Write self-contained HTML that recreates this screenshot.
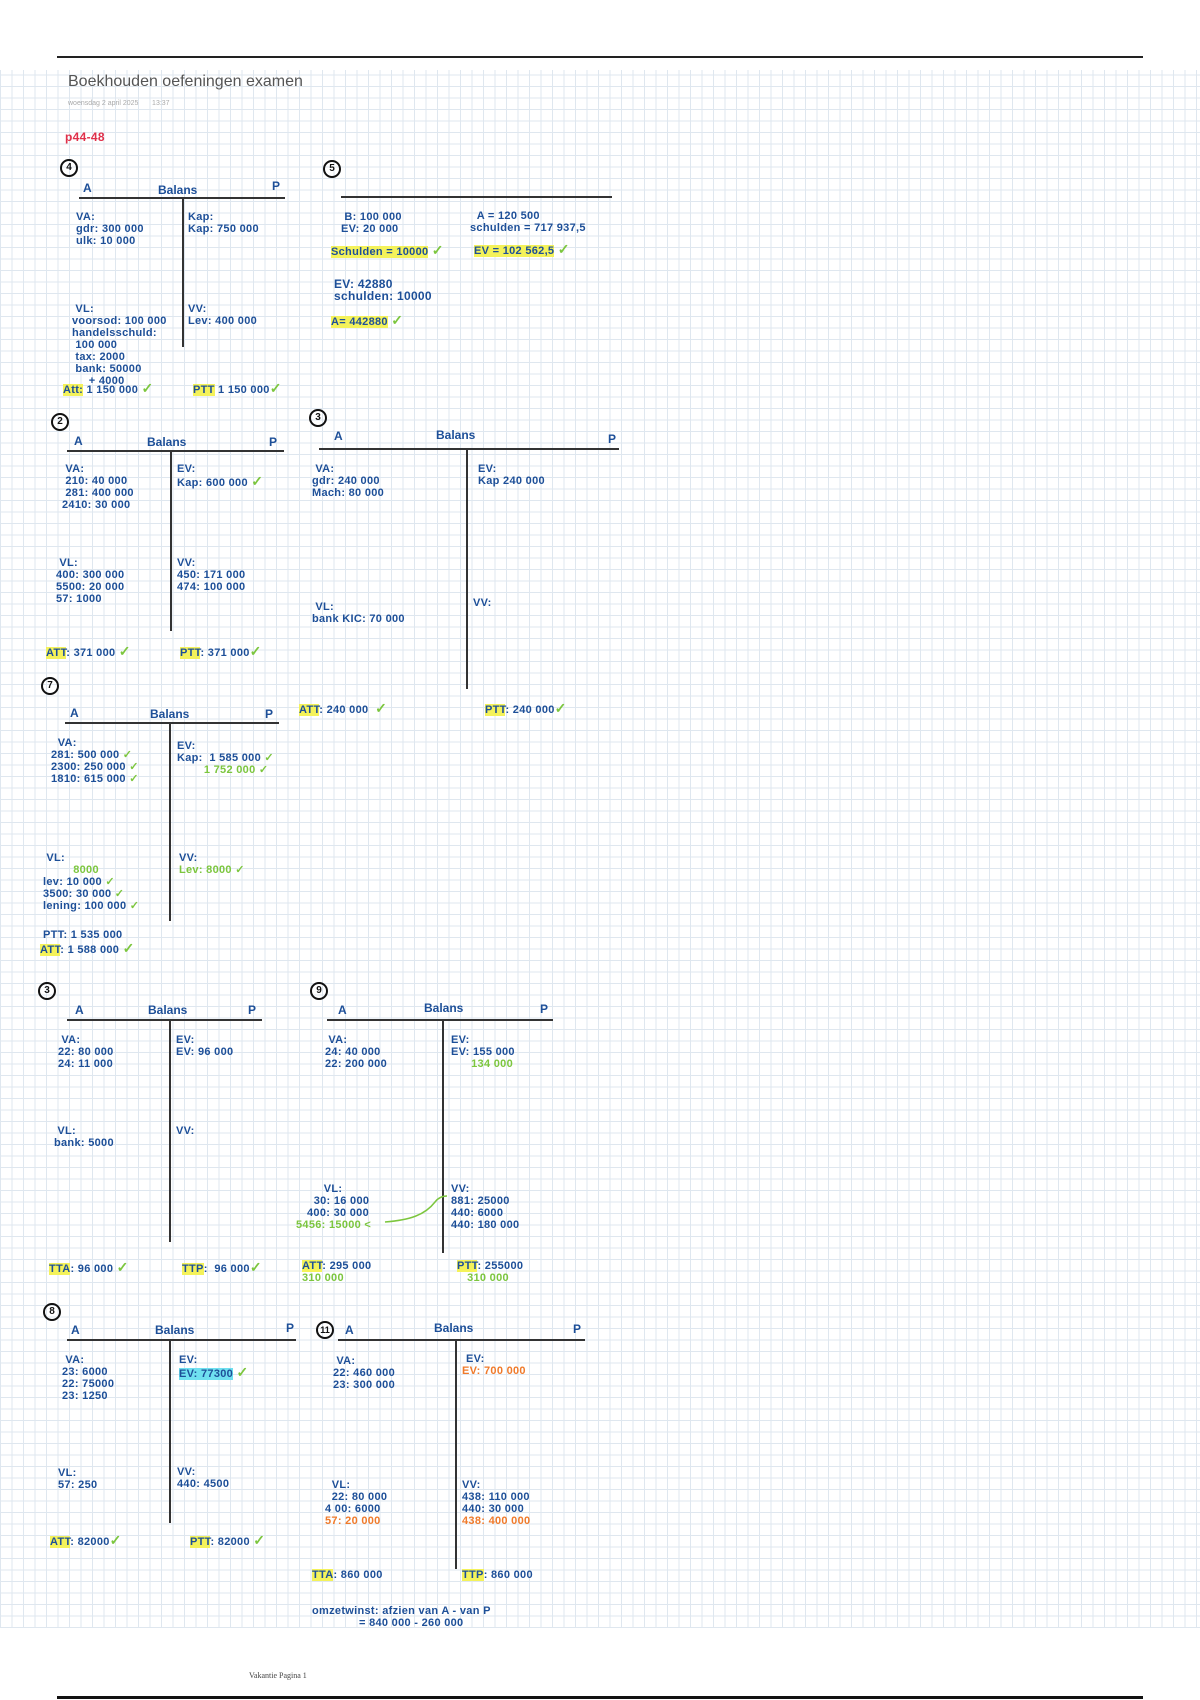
<!DOCTYPE html>
<html><head><meta charset="utf-8"><style>
html,body{margin:0;padding:0}
body{width:1200px;height:1700px;position:relative;background:#fff;overflow:hidden;font-family:"Liberation Sans",sans-serif}
.grid{position:absolute;left:0;top:70px;width:1200px;height:1558px;
background-image:repeating-linear-gradient(0deg,#dfe7ef 0 1px,transparent 1px 11.5px),repeating-linear-gradient(90deg,#dfe7ef 0 1px,transparent 1px 11.5px)}
.t{position:absolute;font-size:11px;font-weight:bold;color:#1d4f98;white-space:nowrap;line-height:12px;letter-spacing:0.3px}
.g{color:#7cc63e}.o{color:#f07a2a}.r{color:#e0304a}
.h{background:#f4f25a}.c{background:#6fe0f0}
.hl{position:absolute;height:2px;background:#333}
.vl{position:absolute;width:2px;background:#333}
.n{position:absolute;width:14px;height:14px;border:2px solid #111;border-radius:50%;font-size:10px;font-weight:bold;text-align:center;line-height:14px;color:#111}
.k{color:#7cc63e;font-size:14px}
.hd{position:absolute;font-size:12px;font-weight:bold;color:#1d4f98}
</style></head><body>
<div class="hl" style="left:57px;top:56px;width:1086px;background:#222"></div>
<div class="grid"></div>
<div class="hl" style="left:57px;top:1696px;width:1086px;background:#111;height:3px"></div>
<div style="position:absolute;left:68px;top:73px;font-size:16px;color:#555">Boekhouden oefeningen examen</div>
<div style="position:absolute;left:68px;top:100px;font-size:7px;color:#aaa">woensdag 2 april 2025 &nbsp;&nbsp;&nbsp;&nbsp;&nbsp; 13:37</div>
<div class="t r" style="left:65px;top:131px;font-size:12px">p44-48</div>
<div style="position:absolute;left:249px;top:1671px;font-size:8px;font-family:'Liberation Serif',serif;color:#444">Vakantie Pagina 1</div>

<!-- 4 -->
<div class="n" style="left:60px;top:159px">4</div>
<div class="hd" style="left:83px;top:181px">A</div><div class="hd" style="left:158px;top:183px">Balans</div><div class="hd" style="left:272px;top:179px">P</div>
<div class="hl" style="left:79px;top:197px;width:206px"></div><div class="vl" style="left:182px;top:198px;height:149px"></div>
<div class="t" style="left:76px;top:211px">VA:<br>gdr: 300 000<br>ulk: 10 000</div>
<div class="t" style="left:188px;top:211px">Kap:<br>Kap: 750 000</div>
<div class="t" style="left:72px;top:303px">&nbsp;VL:<br>voorsod: 100 000<br>handelsschuld:<br>&nbsp;100 000<br>&nbsp;tax: 2000<br>&nbsp;bank: 50000<br>&nbsp;&nbsp;&nbsp;&nbsp;&nbsp;+ 4000</div>
<div class="t" style="left:188px;top:303px">VV:<br>Lev: 400 000</div>
<div class="t" style="left:63px;top:382px"><span class="h">Att:</span> 1 150 000 <span class="k">✓</span></div>
<div class="t" style="left:193px;top:382px"><span class="h">PTT</span> 1 150 000<span class="k">✓</span></div>

<!-- 5 -->
<div class="n" style="left:323px;top:160px">5</div>
<div class="hl" style="left:341px;top:196px;width:271px"></div>
<div class="t" style="left:341px;top:211px">&nbsp;B: 100 000<br>EV: 20 000</div>
<div class="t" style="left:470px;top:210px">&nbsp;&nbsp;A = 120 500<br>schulden = 717 937,5</div>
<div class="t" style="left:331px;top:244px"><span class="h">Schulden = 10000</span> <span class="k">✓</span></div>
<div class="t" style="left:474px;top:243px"><span class="h">EV = 102 562,5</span> <span class="k">✓</span></div>
<div class="t" style="left:334px;top:278px;font-size:12px">EV: 42880<br>schulden: 10000</div>
<div class="t" style="left:331px;top:314px"><span class="h">A= 442880</span> <span class="k">✓</span></div>

<!-- 2 -->
<div class="n" style="left:51px;top:413px">2</div>
<div class="hd" style="left:74px;top:434px">A</div><div class="hd" style="left:147px;top:435px">Balans</div><div class="hd" style="left:269px;top:435px">P</div>
<div class="hl" style="left:67px;top:450px;width:217px"></div><div class="vl" style="left:170px;top:451px;height:180px"></div>
<div class="t" style="left:62px;top:463px">&nbsp;VA:<br>&nbsp;210: 40 000<br>&nbsp;281: 400 000<br>2410: 30 000</div>
<div class="t" style="left:177px;top:463px">EV:<br>Kap: 600 000 <span class="k">✓</span></div>
<div class="t" style="left:56px;top:557px">&nbsp;VL:<br>400: 300 000<br>5500: 20 000<br>57: 1000</div>
<div class="t" style="left:177px;top:557px">VV:<br>450: 171 000<br>474: 100 000</div>
<div class="t" style="left:46px;top:645px"><span class="h">ATT</span>: 371 000 <span class="k">✓</span></div>
<div class="t" style="left:180px;top:645px"><span class="h">PTT</span>: 371 000<span class="k">✓</span></div>

<!-- 3 -->
<div class="n" style="left:309px;top:409px">3</div>
<div class="hd" style="left:334px;top:429px">A</div><div class="hd" style="left:436px;top:428px">Balans</div><div class="hd" style="left:608px;top:432px">P</div>
<div class="hl" style="left:319px;top:448px;width:300px"></div><div class="vl" style="left:466px;top:449px;height:240px"></div>
<div class="t" style="left:312px;top:463px">&nbsp;VA:<br>gdr: 240 000<br>Mach: 80 000</div>
<div class="t" style="left:478px;top:463px">EV:<br>Kap 240 000</div>
<div class="t" style="left:312px;top:601px">&nbsp;VL:<br>bank KIC: 70 000</div>
<div class="t" style="left:473px;top:597px">VV:</div>
<div class="t" style="left:299px;top:702px"><span class="h">ATT</span>: 240 000 &nbsp;<span class="k">✓</span></div>
<div class="t" style="left:485px;top:702px"><span class="h">PTT</span>: 240 000<span class="k">✓</span></div>

<!-- 7 -->
<div class="n" style="left:41px;top:677px">7</div>
<div class="hd" style="left:70px;top:706px">A</div><div class="hd" style="left:150px;top:707px">Balans</div><div class="hd" style="left:265px;top:707px">P</div>
<div class="hl" style="left:65px;top:722px;width:214px"></div><div class="vl" style="left:169px;top:723px;height:198px"></div>
<div class="t" style="left:51px;top:737px">&nbsp;&nbsp;VA:<br>281: 500 000 <span class="g">✓</span><br>2300: 250 000 <span class="g">✓</span><br>1810: 615 000 <span class="g">✓</span></div>
<div class="t" style="left:177px;top:740px">EV:<br>Kap: &nbsp;1 585 000 <span class="g">✓</span><br><span class="g">&nbsp;&nbsp;&nbsp;&nbsp;&nbsp;&nbsp;&nbsp;&nbsp;1 752 000 ✓</span></div>
<div class="t" style="left:43px;top:852px">&nbsp;VL:<br><span class="g">&nbsp;&nbsp;&nbsp;&nbsp;&nbsp;&nbsp;&nbsp;&nbsp;&nbsp;8000</span><br>lev: 10 000 <span class="g">✓</span><br>3500: 30 000 <span class="g">✓</span><br>lening: 100 000 <span class="g">✓</span></div>
<div class="t" style="left:179px;top:852px">VV:<br><span class="g">Lev: 8000 ✓</span></div>
<div class="t" style="left:43px;top:929px">PTT: 1 535 000</div>
<div class="t" style="left:40px;top:942px"><span class="h">ATT</span>: 1 588 000 <span class="k">✓</span></div>

<!-- 3b -->
<div class="n" style="left:38px;top:982px">3</div>
<div class="hd" style="left:75px;top:1003px">A</div><div class="hd" style="left:148px;top:1003px">Balans</div><div class="hd" style="left:248px;top:1003px">P</div>
<div class="hl" style="left:67px;top:1019px;width:195px"></div><div class="vl" style="left:169px;top:1020px;height:222px"></div>
<div class="t" style="left:58px;top:1034px">&nbsp;VA:<br>22: 80 000<br>24: 11 000</div>
<div class="t" style="left:176px;top:1034px">EV:<br>EV: 96 000</div>
<div class="t" style="left:54px;top:1125px">&nbsp;VL:<br>bank: 5000</div>
<div class="t" style="left:176px;top:1125px">VV:</div>
<div class="t" style="left:49px;top:1261px"><span class="h">TTA</span>: 96 000 <span class="k">✓</span></div>
<div class="t" style="left:182px;top:1261px"><span class="h">TTP</span>: &nbsp;96 000<span class="k">✓</span></div>

<!-- 9 -->
<div class="n" style="left:310px;top:982px">9</div>
<div class="hd" style="left:338px;top:1003px">A</div><div class="hd" style="left:424px;top:1001px">Balans</div><div class="hd" style="left:540px;top:1002px">P</div>
<div class="hl" style="left:327px;top:1019px;width:226px"></div><div class="vl" style="left:442px;top:1020px;height:233px"></div>
<div class="t" style="left:325px;top:1034px">&nbsp;VA:<br>24: 40 000<br>22: 200 000</div>
<div class="t" style="left:451px;top:1034px">EV:<br>EV: 155 000<br><span class="g">&nbsp;&nbsp;&nbsp;&nbsp;&nbsp;&nbsp;134 000</span></div>
<div class="t" style="left:307px;top:1183px">&nbsp;&nbsp;&nbsp;&nbsp;&nbsp;VL:<br>&nbsp;&nbsp;30: 16 000<br>400: 30 000<br><span class="g" style="margin-left:-11px">5456: 15000 &lt;</span></div>
<svg style="position:absolute;left:380px;top:1190px" width="70" height="40"><path d="M5 32 C30 30,45 25,55 12 C58 8,62 6,67 6" stroke="#7cc63e" stroke-width="1.5" fill="none"/></svg>
<div class="t" style="left:451px;top:1183px">VV:<br>881: 25000<br>440: 6000<br>440: 180 000</div>
<div class="t" style="left:302px;top:1260px"><span class="h">ATT</span>: 295 000<br><span class="g">310 000</span></div>
<div class="t" style="left:457px;top:1260px"><span class="h">PTT</span>: 255000<br><span class="g">&nbsp;&nbsp;&nbsp;310 000</span></div>

<!-- 8 -->
<div class="n" style="left:43px;top:1303px">8</div>
<div class="hd" style="left:71px;top:1323px">A</div><div class="hd" style="left:155px;top:1323px">Balans</div><div class="hd" style="left:286px;top:1321px">P</div>
<div class="hl" style="left:67px;top:1339px;width:229px"></div><div class="vl" style="left:169px;top:1340px;height:183px"></div>
<div class="t" style="left:62px;top:1354px">&nbsp;VA:<br>23: 6000<br>22: 75000<br>23: 1250</div>
<div class="t" style="left:179px;top:1354px">EV:<br><span class="c">EV: 77300</span> <span class="k">✓</span></div>
<div class="t" style="left:58px;top:1467px">VL:<br>57: 250</div>
<div class="t" style="left:177px;top:1466px">VV:<br>440: 4500</div>
<div class="t" style="left:50px;top:1534px"><span class="h">ATT</span>: 82000<span class="k">✓</span></div>
<div class="t" style="left:190px;top:1534px"><span class="h">PTT</span>: 82000 <span class="k">✓</span></div>

<!-- 11 -->
<div class="n" style="left:316px;top:1321px;font-size:9px">11</div>
<div class="hd" style="left:345px;top:1323px">A</div><div class="hd" style="left:434px;top:1321px">Balans</div><div class="hd" style="left:573px;top:1322px">P</div>
<div class="hl" style="left:338px;top:1339px;width:247px"></div><div class="vl" style="left:455px;top:1340px;height:229px"></div>
<div class="t" style="left:333px;top:1355px">&nbsp;VA:<br>22: 460 000<br>23: 300 000</div>
<div class="t" style="left:466px;top:1353px">EV:<br><span class="o" style="margin-left:-4px">EV: 700 000</span></div>
<div class="t" style="left:325px;top:1479px">&nbsp;&nbsp;VL:<br>&nbsp;&nbsp;22: 80 000<br>4 00: 6000<br><span class="o">57: 20 000</span></div>
<div class="t" style="left:462px;top:1479px">VV:<br>438: 110 000<br>440: 30 000<br><span class="o">438: 400 000</span></div>
<div class="t" style="left:312px;top:1569px"><span class="h">TTA</span>: 860 000</div>
<div class="t" style="left:462px;top:1569px"><span class="h">TTP</span>: 860 000</div>
<div class="t" style="left:312px;top:1605px">omzetwinst: afzien van A - van P<br>&nbsp;&nbsp;&nbsp;&nbsp;&nbsp;&nbsp;&nbsp;&nbsp;&nbsp;&nbsp;&nbsp;&nbsp;&nbsp;&nbsp;= 840 000 - 260 000</div>
</body></html>
